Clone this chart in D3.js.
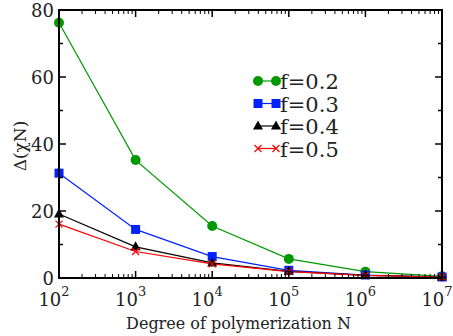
<!DOCTYPE html>
<html>
<head>
<meta charset="utf-8">
<script src="https://cdn.jsdelivr.net/npm/d3@7"></script>
<style>
  body { margin: 0; background: #fff; }
</style>
</head>
<body>
<div id="chart"></div>
<script>
var nValues = [1e2, 1e3, 1e4, 1e5, 1e6, 1e7];
var f02 = [76.2, 35.2, 15.5, 5.7, 1.9, 0.5];
var f03 = [31.3, 14.5, 6.4, 2.3, 0.9, 0.3];
var f04 = [19.1, 9.3, 4.5, 2.0, 0.8, 0.3];
var f05 = [16.1, 7.9, 4.2, 1.9, 0.8, 0.3];
var seriesNames = ['f=0.2', 'f=0.3', 'f=0.4', 'f=0.5'];
var yTicks = [0, 20, 40, 60, 80];
var xTicks = [2, 3, 4, 5, 6, 7];

var width = 453, height = 336;
var margin = { top: 10, right: 11, bottom: 58, left: 59 };
var serif = "'DejaVu Serif', serif";

var svg = d3.select('#chart').append('svg')
  .attr('width', width)
  .attr('height', height);

var x = d3.scaleLog().domain([1e2, 1e7]).range([margin.left, width - margin.right]);
var y = d3.scaleLinear().domain([0, 80]).range([height - margin.bottom, margin.top]);

var series = [
  { name: seriesNames[0], values: f02, color: '#009900', shape: 'circle' },
  { name: seriesNames[1], values: f03, color: '#0022ff', shape: 'square' },
  { name: seriesNames[2], values: f04, color: '#000000', shape: 'triangle' },
  { name: seriesNames[3], values: f05, color: '#ff0000', shape: 'cross' }
];

// minor log ticks
var minor = [];
for (var e = 2; e < 7; e++) {
  for (var k = 2; k <= 9; k++) minor.push(k * Math.pow(10, e));
}
var x0 = margin.left, x1 = width - margin.right;
var y0 = height - margin.bottom, y1 = margin.top;

var g = svg.append('g');

// lines
var line = d3.line()
  .x(function (d, i) { return x(nValues[i]); })
  .y(function (d) { return y(d); });

series.forEach(function (s) {
  g.append('path')
    .attr('d', line(s.values))
    .attr('fill', 'none')
    .attr('stroke', s.color)
    .attr('stroke-width', 1.2);
});

function drawMarker(sel, s, cx, cy) {
  if (s.shape === 'circle') {
    sel.append('circle').attr('cx', cx).attr('cy', cy).attr('r', 5).attr('fill', s.color);
  } else if (s.shape === 'square') {
    sel.append('rect').attr('x', cx - 4.5).attr('y', cy - 4.5).attr('width', 9).attr('height', 9).attr('fill', s.color);
  } else if (s.shape === 'triangle') {
    sel.append('path').attr('d', 'M' + cx + ',' + (cy - 5.5) + 'L' + (cx + 5) + ',' + (cy + 3.5) + 'L' + (cx - 5) + ',' + (cy + 3.5) + 'Z').attr('fill', s.color);
  } else {
    sel.append('path').attr('d', 'M' + (cx - 3.5) + ',' + (cy - 3.5) + 'L' + (cx + 3.5) + ',' + (cy + 3.5) + 'M' + (cx - 3.5) + ',' + (cy + 3.5) + 'L' + (cx + 3.5) + ',' + (cy - 3.5))
      .attr('stroke', s.color).attr('stroke-width', 1.2).attr('fill', 'none');
  }
}

series.forEach(function (s) {
  s.values.forEach(function (v, i) {
    drawMarker(g, s, x(nValues[i]), y(v));
  });
});

// frame
var axes = svg.append('g').attr('stroke', '#000').attr('fill', 'none');
axes.append('rect').attr('x', x0).attr('y', y1).attr('width', x1 - x0).attr('height', y0 - y1).attr('stroke-width', 2);

// x ticks (bottom and top, inside)
nValues.forEach(function (v) {
  axes.append('line').attr('x1', x(v)).attr('x2', x(v)).attr('y1', y0).attr('y2', y0 - 7).attr('stroke-width', 1.5);
  axes.append('line').attr('x1', x(v)).attr('x2', x(v)).attr('y1', y1).attr('y2', y1 + 7).attr('stroke-width', 1.5);
});
minor.forEach(function (v) {
  axes.append('line').attr('x1', x(v)).attr('x2', x(v)).attr('y1', y0).attr('y2', y0 - 4).attr('stroke-width', 1);
  axes.append('line').attr('x1', x(v)).attr('x2', x(v)).attr('y1', y1).attr('y2', y1 + 4).attr('stroke-width', 1);
});
// y ticks
d3.range(0, 81, 10).forEach(function (v) {
  var len = v % 20 === 0 ? 7 : 4;
  axes.append('line').attr('x1', x0).attr('x2', x0 + len).attr('y1', y(v)).attr('y2', y(v)).attr('stroke-width', 1.5);
  axes.append('line').attr('x1', x1).attr('x2', x1 - len).attr('y1', y(v)).attr('y2', y(v)).attr('stroke-width', 1.5);
});

// tick labels
svg.append('g').selectAll('text').data(yTicks).enter().append('text')
  .attr('x', x0 - 5)
  .attr('y', function (d) { return y(d) + 6.5; })
  .attr('text-anchor', 'end')
  .style('font-family', serif)
  .style('font-size', '18px')
  .attr('fill', '#222')
  .text(function (d) { return d; });

var xl = svg.append('g').selectAll('text').data(xTicks).enter().append('text')
  .attr('x', function (d) { return x(Math.pow(10, d)) - 5; })
  .attr('y', y0 + 28)
  .attr('text-anchor', 'middle')
  .attr('fill', '#222')
  .style('font-family', serif)
  .style('font-size', '18px');
xl.append('tspan').text('10');
xl.append('tspan').attr('dy', -10).style('font-size', '13px').text(function (d) { return d; });

// axis titles
svg.append('text')
  .attr('x', (x0 + x1) / 2 - 12)
  .attr('y', height - 7)
  .attr('text-anchor', 'middle')
  .attr('fill', '#222')
  .style('font-family', serif)
  .style('font-size', '16px')
  .text('Degree of polymerization N');

svg.append('text')
  .attr('transform', 'translate(26,' + ((y0 + y1) / 2 + 2) + ') rotate(-90)')
  .attr('text-anchor', 'middle')
  .attr('fill', '#222')
  .style('font-family', serif)
  .style('font-size', '17px')
  .text('Δ(χN)');

// legend
var legend = svg.append('g');
series.forEach(function (s, i) {
  var ly = 81 + i * 22.5;
  legend.append('line').attr('x1', 258).attr('x2', 276).attr('y1', ly).attr('y2', ly)
    .attr('stroke', s.color).attr('stroke-width', 1.2);
  drawMarker(legend, s, 258, ly);
  drawMarker(legend, s, 276, ly);
  legend.append('text').attr('x', 280).attr('y', ly + 8)
    .attr('fill', '#222')
    .style('font-family', serif)
    .style('font-size', '21px')
    .text(s.name);
});
</script>
</body>
</html>
